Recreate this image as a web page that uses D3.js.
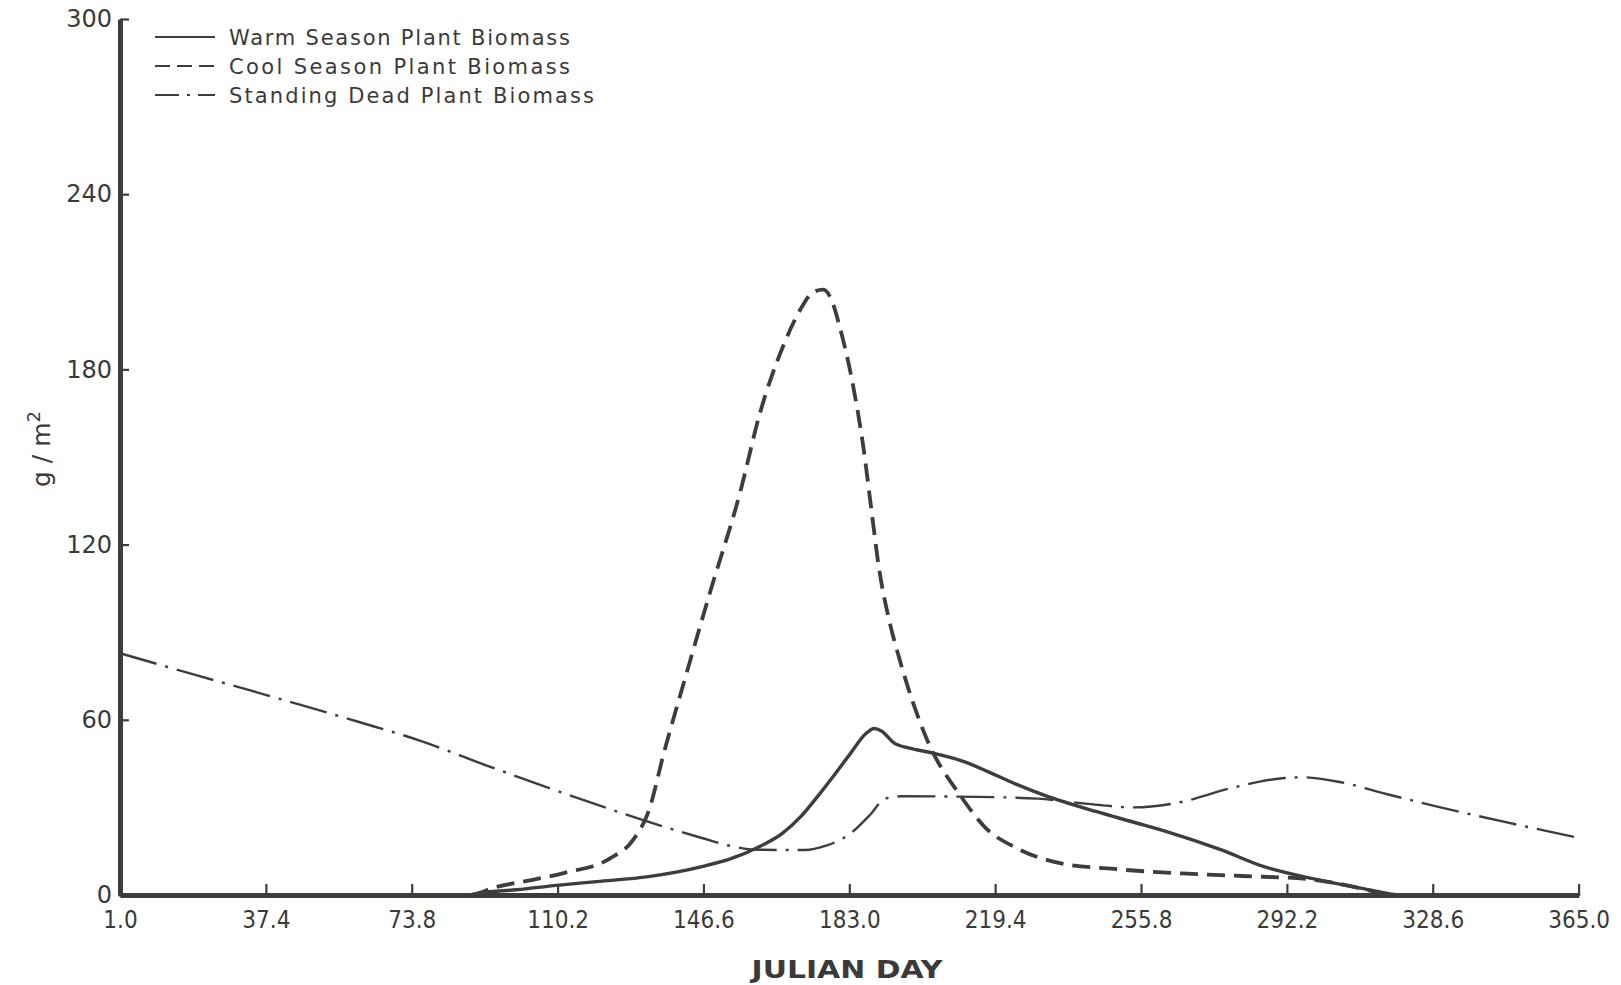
<!DOCTYPE html>
<html>
<head>
<meta charset="utf-8">
<script src="https://cdn.jsdelivr.net/npm/d3@7"></script>
<style>
  html, body { margin: 0; padding: 0; background: #ffffff; }
  svg { display: block; }
  text { fill: #3a3a3a; font-family: "DejaVu Sans", "Noto Sans", sans-serif; }
</style>
</head>
<body>
<svg id="chart" width="1621" height="985"></svg>
<script>
// Julian day tick labels and biomass ticks (g/m²)
const xTicks = [1.0, 37.4, 73.8, 110.2, 146.6, 183.0, 219.4, 255.8, 292.2, 328.6, 365.0];
const yTicks = [0, 60, 120, 180, 240, 300];

// Warm season plant biomass: [julian day, g/m²]
const warmSeason = [
  [1, 0], [88, 0], [91, 0.7], [100, 1.8], [110, 3.3], [120, 4.6], [132.9, 6.3], [146.5, 9.8],
  [153.8, 12.6], [160, 16.2], [166.2, 21], [171, 27], [175.7, 34.8], [179.5, 41.5],
  [183.3, 48.5], [187.1, 55.2], [189.2, 57], [191, 56.2], [194.2, 52], [198, 50.3],
  [203.2, 48.8], [211.8, 45.6], [218, 42], [224.2, 38.2], [231.6, 34.2], [244.5, 28.6],
  [253.8, 25], [262, 21.8], [275.5, 15.6], [286.7, 9.6], [298.7, 5.6], [311.6, 2.1],
  [320.5, 0], [365, 0]
];

// Cool season plant biomass: [julian day, g/m²]
const coolSeason = [
  [1, 0], [88, 0], [95, 2.8], [104, 5.2], [112, 7.6], [123.4, 12.6], [129, 18.8], [133, 29],
  [136.7, 48.5], [142.4, 76], [148.1, 103], [155.7, 137.6], [160.7, 165],
  [166.5, 188], [171, 201], [174, 206.5], [176.5, 207.3], [178.5, 204], [180.6, 194.6],
  [184, 174], [186.5, 153.5], [188.6, 131], [190.4, 112], [192.8, 95], [195.7, 80],
  [202.3, 53.5], [210.9, 33.7], [217, 23], [224.1, 16.5], [235.3, 11], [250, 8.8],
  [266, 7.4], [281, 6.5], [297, 5.5], [306, 3.6], [313, 1.5], [318, 0], [365, 0]
];

// Standing dead plant biomass: [julian day, g/m²]
const standingDead = [
  [1, 82.8], [20, 75.3], [40, 67.5], [60, 59.5], [76, 52.8], [92, 44.6], [109, 36.2],
  [131, 25.9], [146, 19.6], [154, 16.6], [160, 15.5], [172, 15.4], [177, 16.8],
  [183.3, 21.1], [188, 27.2], [192, 33], [196, 33.8], [215, 33.6], [230, 33],
  [242, 31.3], [254, 30], [265, 31.6], [278, 36.5], [290, 39.8], [296, 40.3],
  [305, 38.8], [317, 34.6], [330, 30.2], [346, 25.2], [364.2, 19.8]
];

const seriesNames = ["Warm Season Plant Biomass", "Cool Season Plant Biomass", "Standing Dead Plant Biomass"];

const ink = "#3d3d3d";
const svg = d3.select("#chart");

const x = d3.scaleLinear().domain([1, 365]).range([120, 1578.6]);
const y = d3.scaleLinear().domain([0, 300]).range([895, 19]);

const styles = [
  { data: warmSeason, width: 3.4, dash: null },
  { data: coolSeason, width: 3.8, dash: "18,9" },
  { data: standingDead, width: 2.4, dash: "38,9,3,9" }
];

const line = d3.line()
  .x(d => x(d[0]))
  .y(d => y(d[1]))
  .curve(d3.curveMonotoneX);

// Curves
const curves = svg.append("g").attr("fill", "none").attr("stroke", ink)
  .attr("stroke-linejoin", "round");
styles.forEach(s => {
  curves.append("path")
    .datum(s.data)
    .attr("d", line)
    .attr("stroke-width", s.width)
    .attr("stroke-dasharray", s.dash)
    .attr("stroke-linecap", s.dash ? "butt" : "round");
});

// X axis, ticks pointing up into the plot
const xAxis = svg.append("g")
  .attr("transform", `translate(0,${y(0)})`)
  .call(d3.axisBottom(x).tickValues(xTicks).tickFormat(d3.format(".1f"))
    .tickSizeInner(-11).tickSizeOuter(0).tickPadding(16));
xAxis.select(".domain").attr("stroke", ink).attr("stroke-width", 5);
xAxis.selectAll(".tick line").attr("stroke", ink).attr("stroke-width", 2.2);
xAxis.selectAll(".tick text")
  .attr("fill", "#3a3a3a")
  .style("font-family", '"DejaVu Sans Condensed", "DejaVu Sans", sans-serif')
  .style("font-size", "24px");

// Y axis, ticks pointing right
const yAxis = svg.append("g")
  .attr("transform", `translate(${x(1)},0)`)
  .call(d3.axisLeft(y).tickValues(yTicks).tickFormat(d3.format("d"))
    .tickSizeInner(-9).tickSizeOuter(0).tickPadding(8));
yAxis.select(".domain").attr("stroke", ink).attr("stroke-width", 5);
yAxis.selectAll(".tick line").attr("stroke", ink).attr("stroke-width", 2.2);
yAxis.selectAll(".tick text")
  .attr("fill", "#3a3a3a")
  .style("font-size", "24px");

// Axis titles
svg.append("text")
  .attr("x", 847).attr("y", 978)
  .attr("text-anchor", "middle")
  .attr("textLength", 191).attr("lengthAdjust", "spacingAndGlyphs")
  .style("font-size", "25px").style("font-weight", "bold")
  .text("JULIAN DAY");

const yTitle = svg.append("text")
  .attr("transform", "translate(50,449) rotate(-90)")
  .attr("text-anchor", "middle")
  .style("font-size", "25px");
yTitle.append("tspan").text("g / m");
yTitle.append("tspan").attr("dy", -10).style("font-size", "18px").text("2");

// Legend
const legendRows = [37, 66, 95];
const legend = svg.append("g");
styles.forEach((s, i) => {
  legend.append("line")
    .attr("x1", 155).attr("x2", 215)
    .attr("y1", legendRows[i]).attr("y2", legendRows[i])
    .attr("stroke", ink).attr("stroke-width", 2)
    .attr("stroke-dasharray", i === 1 ? "15,7" : (i === 2 ? "24,8,3,8" : null));
  legend.append("text")
    .attr("x", 229).attr("y", legendRows[i])
    .attr("dy", "0.36em")
    .attr("textLength", i === 2 ? 365 : 341).attr("lengthAdjust", "spacing")
    .style("font-size", "21px")
    .text(seriesNames[i]);
});
</script>
</body>
</html>
